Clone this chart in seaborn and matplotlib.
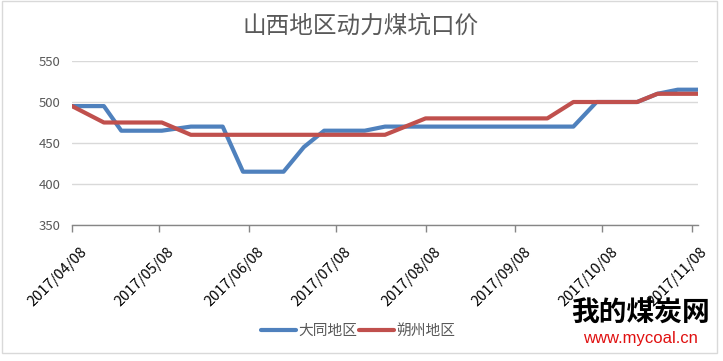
import matplotlib
matplotlib.use("Agg")
import matplotlib.pyplot as plt
import matplotlib.transforms as mtransforms
from matplotlib.patches import Rectangle
import seaborn as sns
import pandas as pd

# ---- data ----
dates = ["2017-04-08", "2017-04-19", "2017-04-25", "2017-05-02", "2017-05-09",
         "2017-05-19", "2017-05-30", "2017-06-06", "2017-06-13", "2017-06-20",
         "2017-06-27", "2017-07-04", "2017-07-11", "2017-07-18", "2017-07-25",
         "2017-08-08", "2017-08-15", "2017-08-22", "2017-08-29", "2017-09-05",
         "2017-09-12", "2017-09-19", "2017-09-28", "2017-10-06", "2017-10-13",
         "2017-10-20", "2017-10-27", "2017-11-03", "2017-11-10"]
datong = [495, 495, 465, 465, 465, 470, 470, 415, 415, 415,
          445, 465, 465, 465, 470, 470, 470, 470, 470, 470,
          470, 470, 470, 500, 500, 500, 510, 515, 515]
shuozhou = [495, 475, 475, 475, 475, 460, 460, 460, 460, 460,
            460, 460, 460, 460, 460, 480, 480, 480, 480, 480,
            480, 480, 500, 500, 500, 500, 510, 510, 510]
series_names = ["大同地区", "朔州地区"]
colors = ["#4F81BD", "#C0504D"]
title = "山西地区动力煤坑口价"
tick_dates = ["2017-04-08", "2017-05-08", "2017-06-08", "2017-07-08",
              "2017-08-08", "2017-09-08", "2017-10-08", "2017-11-08"]
yticks = [350, 400, 450, 500, 550]

df = pd.DataFrame({
    "date": pd.to_datetime(dates * 2),
    "price": datong + shuozhou,
    "region": [series_names[0]] * len(dates) + [series_names[1]] * len(dates),
})

sns.set_theme(style="white")
plt.rcParams["font.family"] = ["Noto Sans CJK SC", "DejaVu Sans"]

fig = plt.figure(figsize=(7.23, 3.61), dpi=100)
ax = fig.add_axes([72 / 723, 1 - 225 / 361, (698 - 72) / 723, (225 - 61) / 361])

sns.lineplot(data=df, x="date", y="price", hue="region", palette=colors,
             linewidth=3.0, ax=ax, legend=False, sort=False)

ax.set_ylim(350, 550)
ax.set_xlim(pd.Timestamp("2017-04-08"), pd.Timestamp("2017-11-10"))
ax.set_yticks(yticks)
ax.set_yticklabels([str(v) for v in yticks], color="#595959", fontsize=9.5)
ax.yaxis.grid(True, color="#D9D9D9", linewidth=1.0)
ax.xaxis.grid(False)
ax.set_xlabel("")
ax.set_ylabel("")

tds = pd.to_datetime(tick_dates)
ax.set_xticks(tds)
ax.set_xticklabels([d.strftime("%Y/%m/%d") for d in tds], fontsize=10.5, color="#000000")
ax.tick_params(axis="x", direction="out", length=5, width=1, color="#868686", pad=2, bottom=True)
ax.tick_params(axis="y", length=0, pad=8)

offset = mtransforms.ScaledTranslation(8 / 100, -10 / 100, fig.dpi_scale_trans)
for lab in ax.get_xticklabels():
    lab.set_rotation(45)
    lab.set_ha("right")
    lab.set_va("top")
    lab.set_rotation_mode("anchor")
    lab.set_transform(lab.get_transform() + offset)

for s in ["left", "right", "top"]:
    ax.spines[s].set_visible(False)
ax.spines["bottom"].set_color("#868686")
ax.spines["bottom"].set_linewidth(1.0)

fig.text(361 / 723, 1 - 26.5 / 361, title, ha="center", va="center",
         fontsize=17, color="#595959", fontweight="light")

handles = [plt.Line2D([], [], color=c, linewidth=3.0) for c in colors]
fig.legend(handles, series_names, loc="center", bbox_to_anchor=(358 / 723, 1 - 331 / 361),
           ncol=2, frameon=False, fontsize=10.6, handlelength=2.4, handletextpad=0.15,
           columnspacing=0.1, labelcolor="#595959")

# watermark text
fig.text(641 / 723, 1 - 314 / 361, "我的煤炭网", ha="center", va="center",
         fontsize=20, color="#000000", fontweight="bold")
fig.text(640 / 723, 1 - 339 / 361, "www.mycoal.cn", ha="center", va="center",
         fontsize=12, color="#E01010", family=["Liberation Sans", "DejaVu Sans"])

fig.patches.append(Rectangle((2 / 723, 1 - 353 / 361), 715 / 723, 352 / 361,
                             transform=fig.transFigure, fill=False,
                             edgecolor="#D9D9D9", linewidth=1.0))

fig.savefig("out.png", dpi=100, facecolor="white")
